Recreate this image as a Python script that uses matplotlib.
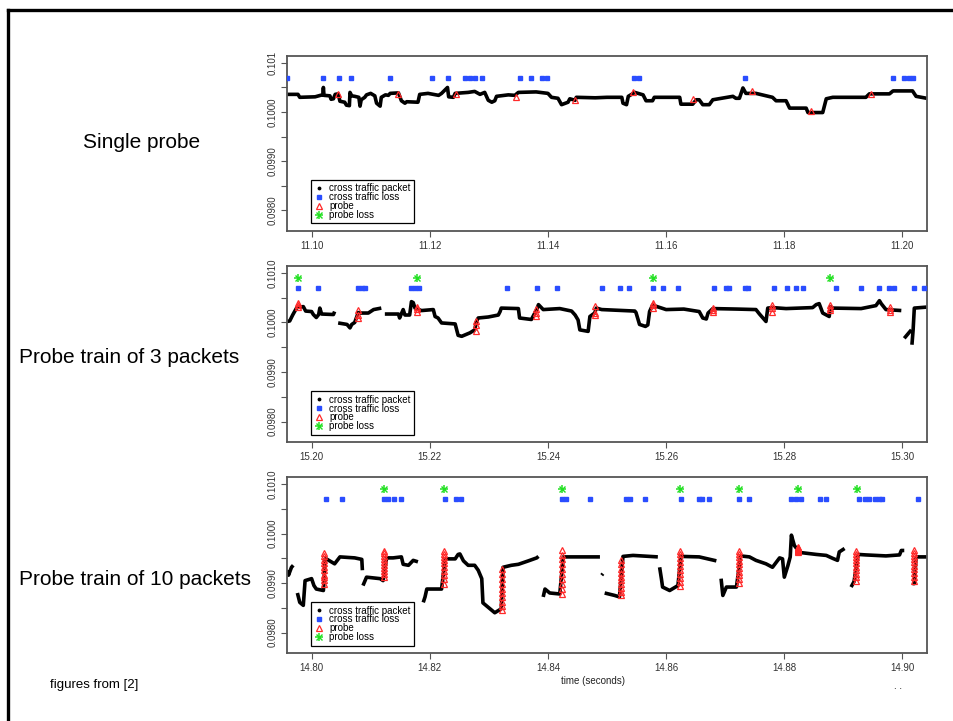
import numpy as np
import matplotlib
matplotlib.use("Agg")
import matplotlib.pyplot as plt
from matplotlib.lines import Line2D

plt.rcParams['font.family'] = ['Liberation Sans', 'DejaVu Sans']

# --------------------------
# Panel 1: single probe
# --------------------------
p1_t = [11.0959, 11.0977, 11.0980, 11.1006, 11.1015, 11.1019, 11.1020, 11.1021, 11.1031, 11.1033,
        11.1037, 11.1040, 11.1045, 11.1048, 11.1056, 11.1059, 11.1064, 11.1065, 11.1068, 11.1073,
        11.1080, 11.1082, 11.1084, 11.1090, 11.1093, 11.1100, 11.1107, 11.1110, 11.1116, 11.1118,
        11.1125, 11.1130, 11.1133, 11.1147, 11.1152, 11.1158, 11.1161, 11.1180, 11.1183, 11.1197,
        11.1215, 11.1220, 11.1230, 11.1232, 11.1240, 11.1243, 11.1265, 11.1276, 11.1285, 11.1293,
        11.1299, 11.1305, 11.1310, 11.1313, 11.1333, 11.1344, 11.1350, 11.1380, 11.1400, 11.1406,
        11.1417, 11.1423, 11.1434, 11.1437, 11.1446, 11.1448, 11.1480, 11.1500, 11.1525, 11.1527,
        11.1533, 11.1536, 11.1547, 11.1561, 11.1566, 11.1577, 11.1580, 11.1623, 11.1625, 11.1645,
        11.1651, 11.1656, 11.1662, 11.1673, 11.1679, 11.1713, 11.1718, 11.1724, 11.1730, 11.1735,
        11.1752, 11.1780, 11.1786, 11.1803, 11.1809, 11.1837, 11.1840, 11.1865, 11.1871, 11.1882,
        11.1938, 11.1944, 11.1978, 11.1984, 11.2017, 11.2023, 11.2041]
p1_y = [0.10036, 0.10036, 0.10030, 0.10031, 0.10034, 0.10035, 0.10050, 0.10034, 0.10033, 0.10026,
        0.10027, 0.10036, 0.10037, 0.10022, 0.10020, 0.10014, 0.10013, 0.10040, 0.10033, 0.10032,
        0.10030, 0.10012, 0.10025, 0.10030, 0.10035, 0.10038, 0.10033, 0.10018, 0.10012, 0.10030,
        0.10035, 0.10034, 0.10038, 0.10039, 0.10023, 0.10018, 0.10021, 0.10020, 0.10036, 0.10038,
        0.10034, 0.10038, 0.10050, 0.10031, 0.10030, 0.10038, 0.10040, 0.10042, 0.10036, 0.10040,
        0.10024, 0.10020, 0.10023, 0.10032, 0.10035, 0.10034, 0.10040, 0.10041, 0.10038, 0.10030,
        0.10028, 0.10015, 0.10020, 0.10027, 0.10024, 0.10030, 0.10029, 0.10030, 0.10030, 0.10018,
        0.10015, 0.10032, 0.10040, 0.10035, 0.10023, 0.10023, 0.10030, 0.10030, 0.10016, 0.10016,
        0.10025, 0.10025, 0.10015, 0.10015, 0.10025, 0.10032, 0.10028, 0.10028, 0.10049, 0.10038,
        0.10038, 0.10030, 0.10023, 0.10023, 0.10008, 0.10008, 0.09999, 0.09999, 0.10027, 0.10030,
        0.10030, 0.10037, 0.10037, 0.10043, 0.10043, 0.10032, 0.10028]
p1_loss = [11.0959, 11.1020, 11.1047, 11.1066, 11.1133, 11.1203, 11.1231, 11.1259, 11.1268, 11.1276,
           11.1288, 11.1352, 11.1372, 11.1390, 11.1398, 11.1546, 11.1554, 11.1734, 11.1984, 11.2003,
           11.2011, 11.2017]
p1_probe_t = [11.1044, 11.1146, 11.1245, 11.1346, 11.1446, 11.1544, 11.1646, 11.1746, 11.1846, 11.1946]
p1_probe_y = [[0.10037], [0.10037], [0.10037], [0.10030], [0.10024], [0.10040], [0.10026], [0.10043],
              [0.10003], [0.10036]]
p1_ploss = []

# --------------------------
# Panel 2: probe train of 3 packets
# --------------------------
p2_t = [15.1959, 15.1963, 15.1968, 15.1975, 15.1986, 15.1990, 15.2000, 15.2003, 15.2008, 15.2012,
        15.2014, 15.2017, 15.2037, 15.2039, np.nan, 15.2045, 15.2060, 15.2065, 15.2068, 15.2073,
        15.2079, 15.2082, 15.2096, 15.2105, 15.2118, np.nan, 15.2124, 15.2147, 15.2149, 15.2155,
        15.2158, 15.2166, 15.2169, 15.2172, 15.2175, 15.2186, 15.2206, 15.2209, 15.2214, 15.2220,
        15.2243, 15.2248, 15.2254, 15.2268, 15.2276, 15.2279, 15.2282, 15.2299, 15.2316, 15.2319,
        15.2321, 15.2350, 15.2352, 15.2372, 15.2376, 15.2381, 15.2384, 15.2392, 15.2420, 15.2440,
        15.2446, 15.2451, 15.2454, 15.2468, 15.2471, 15.2479, 15.2482, 15.2491, 15.2547, 15.2549,
        15.2555, 15.2565, 15.2569, 15.2572, 15.2577, 15.2600, 15.2630, 15.2656, 15.2662, 15.2668,
        15.2671, 15.2679, 15.2720, 15.2752, 15.2758, 15.2769, 15.2772, 15.2780, 15.2803, 15.2848,
        15.2854, 15.2859, 15.2865, 15.2876, 15.2878, 15.2882, 15.2930, 15.2955, 15.2961, 15.2964,
        15.2972, 15.2998, np.nan, 15.3003, 15.3010, 15.3015, np.nan, 15.3016, 15.3018, 15.3020,
        15.3041]
p2_y = [0.10002, 0.10003, 0.10015, 0.10030, 0.10032, 0.10023, 0.10022, 0.10016, 0.10010, 0.10016,
        0.10029, 0.10017, 0.10016, 0.10022, np.nan, 0.09999, 0.09996, 0.09989, 0.09996, 0.10000,
        0.10020, 0.10019, 0.10019, 0.10026, 0.10029, np.nan, 0.10017, 0.10017, 0.10009, 0.10026,
        0.10015, 0.10015, 0.10042, 0.10040, 0.10029, 0.10024, 0.10026, 0.10012, 0.10009, 0.09999,
        0.09997, 0.09974, 0.09972, 0.09979, 0.09985, 0.10002, 0.10009, 0.10011, 0.10015, 0.10022,
        0.10029, 0.10028, 0.10009, 0.10006, 0.10015, 0.10026, 0.10036, 0.10026, 0.10028, 0.10023,
        0.10015, 0.10005, 0.09985, 0.09982, 0.10012, 0.10019, 0.10029, 0.10026, 0.10023, 0.10020,
        0.09996, 0.09992, 0.09995, 0.10022, 0.10035, 0.10026, 0.10027, 0.10022, 0.10009, 0.10007,
        0.10019, 0.10028, 0.10027, 0.10026, 0.10017, 0.10002, 0.10029, 0.10030, 0.10028, 0.10030,
        0.10036, 0.10038, 0.10019, 0.10012, 0.10032, 0.10029, 0.10028, 0.10034, 0.10044, 0.10038,
        0.10026, 0.10024, np.nan, 0.09968, 0.09978, 0.09985, np.nan, 0.09955, 0.09985, 0.10029,
        0.10031]
p2_loss = [15.1977, 15.2011, 15.2079, 15.2085, 15.2090, 15.2169, 15.2175, 15.2182, 15.2330, 15.2382,
           15.2415, 15.2491, 15.2522, 15.2537, 15.2577, 15.2594, 15.2620, 15.2681, 15.2702, 15.2707,
           15.2733, 15.2738, 15.2782, 15.2805, 15.2820, 15.2832, 15.2887, 15.2929, 15.2961, 15.2977,
           15.2986, 15.3020, 15.3037]
p2_probe_t = [15.1977, 15.2079, 15.2179, 15.2278, 15.2379, 15.2479, 15.2577, 15.2679, 15.2779,
              15.2878, 15.2979]
p2_probe_y = [[0.10032, 0.10036, 0.10039], [0.10009, 0.10015, 0.10026], [0.10022, 0.10028, 0.10032],
              [0.09983, 0.09995, 0.10003], [0.10014, 0.10019, 0.10027], [0.10015, 0.10019, 0.10034],
              [0.10030, 0.10035, 0.10039], [0.10021, 0.10026, 0.10030], [0.10022, 0.10029, 0.10036],
              [0.10025, 0.10030, 0.10036], [0.10021, 0.10026, 0.10032]]
p2_ploss = [15.1977, 15.2179, 15.2577, 15.2878]

# --------------------------
# Panel 3: probe train of 10 packets
# --------------------------
p3_t = [14.7959, 14.7961, 14.7966, 14.7969, np.nan, 14.7972, np.nan, 14.7976, 14.7980, 14.7986,
        14.7989, 14.8000, 14.8004, 14.8008, 14.8020, 14.8023, 14.8025, 14.8039, 14.8048, 14.8073,
        14.8085, 14.8086, np.nan, 14.8087, 14.8093, 14.8116, 14.8121, 14.8127, 14.8138, 14.8152,
        14.8155, 14.8164, 14.8172, 14.8180, np.nan, 14.8189, 14.8192, 14.8195, 14.8220, 14.8226,
        14.8243, 14.8248, 14.8251, 14.8257, 14.8265, 14.8276, 14.8282, 14.8288, 14.8290, 14.8299,
        14.8310, 14.8321, 14.8324, 14.8338, 14.8350, 14.8367, 14.8381, 14.8384, np.nan, 14.8392,
        14.8395, 14.8403, 14.8420, 14.8426, 14.8488, np.nan, 14.8491, 14.8493, np.nan, 14.8496,
        14.8513, 14.8521, 14.8527, 14.8544, 14.8586, np.nan, 14.8589, 14.8592, 14.8594, 14.8606,
        14.8620, 14.8625, 14.8656, 14.8685, np.nan, 14.8693, 14.8696, 14.8702, 14.8719, 14.8726,
        14.8741, 14.8752, 14.8769, 14.8780, 14.8792, 14.8797, 14.8800, 14.8806, 14.8810, 14.8812,
        14.8817, 14.8826, 14.8854, 14.8871, 14.8882, 14.8890, 14.8893, 14.8902, np.nan, 14.8913,
        14.8918, 14.8925, 14.8938, 14.8972, 14.8995, 14.8998, 14.9003, np.nan, 14.9017, 14.9020,
        14.9023, 14.9041]
p3_y = [0.09926, 0.09916, 0.09932, 0.09936, np.nan, 0.09912, np.nan, 0.09880, 0.09861, 0.09855,
        0.09905, 0.09909, 0.09895, 0.09888, 0.09885, 0.09949, 0.09949, 0.09939, 0.09953, 0.09951,
        0.09948, 0.09926, np.nan, 0.09895, 0.09912, 0.09909, 0.09905, 0.09951, 0.09951, 0.09953,
        0.09938, 0.09936, 0.09946, 0.09943, np.nan, 0.09861, 0.09872, 0.09888, 0.09888, 0.09949,
        0.09949, 0.09958, 0.09959, 0.09945, 0.09936, 0.09936, 0.09926, 0.09909, 0.09860, 0.09851,
        0.09840, 0.09848, 0.09932, 0.09936, 0.09938, 0.09945, 0.09951, 0.09954, np.nan, 0.09872,
        0.09888, 0.09880, 0.09878, 0.09953, 0.09953, np.nan, 0.09916, 0.09919, np.nan, 0.09880,
        0.09875, 0.09872, 0.09954, 0.09956, 0.09953, np.nan, 0.09932, 0.09909, 0.09892, 0.09885,
        0.09895, 0.09954, 0.09953, 0.09945, np.nan, 0.09909, 0.09875, 0.09892, 0.09892, 0.09955,
        0.09953, 0.09946, 0.09939, 0.09932, 0.09951, 0.09949, 0.09912, 0.09935, 0.09953, 0.09997,
        0.09976, 0.09962, 0.09958, 0.09956, 0.09950, 0.09946, 0.09963, 0.09970, np.nan, 0.09892,
        0.09903, 0.09958, 0.09957, 0.09955, 0.09957, 0.09966, 0.09966, np.nan, 0.09899, 0.09899,
        0.09953, 0.09953]
p3_loss = [14.8025, 14.8052, 14.8123, 14.8129, 14.8140, 14.8152, 14.8226, 14.8245, 14.8253, 14.8423,
           14.8431, 14.8471, 14.8532, 14.8539, 14.8564, 14.8625, 14.8655, 14.8660, 14.8672, 14.8724,
           14.8740, 14.8812, 14.8820, 14.8828, 14.8861, 14.8871, 14.8927, 14.8937, 14.8944, 14.8953,
           14.8961, 14.8965, 14.9026]
p3_probe_t = [14.8021, 14.8123, 14.8224, 14.8323, 14.8423, 14.8523, 14.8623, 14.8723, 14.8824,
              14.8922, 14.9020]
p3_probe_y = [
    [0.09898, 0.09906, 0.09913, 0.09917, 0.09926, 0.09933, 0.09940, 0.09946, 0.09955, 0.09961],
    [0.09912, 0.09918, 0.09925, 0.09931, 0.09937, 0.09943, 0.09949, 0.09955, 0.09960, 0.09965],
    [0.09899, 0.09908, 0.09916, 0.09924, 0.09932, 0.09940, 0.09947, 0.09953, 0.09959, 0.09965],
    [0.09845, 0.09853, 0.09862, 0.09871, 0.09880, 0.09889, 0.09898, 0.09908, 0.09919, 0.09929],
    [0.09878, 0.09888, 0.09898, 0.09908, 0.09918, 0.09928, 0.09938, 0.09948, 0.09957, 0.09966],
    [0.09875, 0.09883, 0.09891, 0.09899, 0.09906, 0.09913, 0.09921, 0.09929, 0.09938, 0.09946],
    [0.09895, 0.09903, 0.09911, 0.09919, 0.09927, 0.09935, 0.09943, 0.09950, 0.09958, 0.09965],
    [0.09900, 0.09908, 0.09916, 0.09923, 0.09931, 0.09938, 0.09945, 0.09952, 0.09958, 0.09965],
    [0.09962, 0.09964, 0.09965, 0.09967, 0.09968, 0.09969, 0.09970, 0.09971, 0.09972, 0.09974],
    [0.09904, 0.09912, 0.09919, 0.09926, 0.09933, 0.09940, 0.09947, 0.09953, 0.09959, 0.09965],
    [0.09904, 0.09912, 0.09920, 0.09928, 0.09935, 0.09942, 0.09949, 0.09955, 0.09961, 0.09967]]
p3_ploss = [14.8123, 14.8224, 14.8424, 14.8623, 14.8724, 14.8824, 14.8923]

loss_level = 0.10070
ploss_level = 0.10090
y_ticks = [0.0980, 0.0985, 0.0990, 0.0995, 0.1000, 0.1005, 0.1010]

panels = [
    ("Single probe", 11.10, p1_t, p1_y, p1_loss, p1_probe_t, p1_probe_y, p1_ploss, "0.101"),
    ("Probe train of 3 packets", 15.20, p2_t, p2_y, p2_loss, p2_probe_t, p2_probe_y, p2_ploss, "0.1010"),
    ("Probe train of 10 packets", 14.80, p3_t, p3_y, p3_loss, p3_probe_t, p3_probe_y, p3_ploss, "0.1010"),
]
axes_pos = [[0.3012, 0.6796, 0.6702, 0.2427],
            [0.3012, 0.3865, 0.6702, 0.2446],
            [0.3012, 0.0939, 0.6702, 0.2441]]
label_pos = [(0.1488, 0.8017), (0.1352, 0.5035), (0.1410, 0.1956)]

fig = plt.figure(figsize=(9.54, 7.21), dpi=100)

# slide frame (top and left edges)
fig.add_artist(Line2D([8 / 954, 1.0], [1 - 10 / 721, 1 - 10 / 721], color='black', lw=2.4,
                      transform=fig.transFigure))
fig.add_artist(Line2D([8 / 954, 8 / 954], [0.0, 1 - 10 / 721], color='black', lw=2.4,
                      transform=fig.transFigure))

blue = '#2a4dff'
red = '#ff2a2a'
green = '#22e022'


def star(ax, xs, ys, **kw):
    # R pch 8: a plus sign with a cross on top
    ax.plot(xs, ys, '+', color=green, ms=5.5, mew=1.1, ls='none', **kw)
    ax.plot(xs, ys, 'x', color=green, ms=4, mew=1.0, ls='none', **kw)


for i, (title, x0, tt, yy, loss, pt, py, pl, toplab) in enumerate(panels):
    ax = fig.add_axes(axes_pos[i])
    ax.plot(tt, yy, color='black', lw=2.6, solid_capstyle='butt', zorder=2)
    ax.plot(loss, [loss_level] * len(loss), 's', color=blue, ms=3.2, mec=blue, zorder=3)
    for t, vals in zip(pt, py):
        ax.plot([t] * len(vals), vals, '^', mfc='none', mec=red, ms=4.2, mew=0.9, zorder=4)
    if len(pl) > 0:
        star(ax, pl, [ploss_level] * len(pl), zorder=4)

    ax.set_xlim(x0 - 0.0041, x0 + 0.1041)
    ax.set_ylim(0.09758, 0.10114)
    xt = [x0 + 0.02 * k for k in range(6)]
    ax.set_xticks(xt, ["%.2f" % v for v in xt])
    ylabs = ["0.0980", "", "0.0990", "", "0.1000", "", toplab]
    ax.set_yticks(y_ticks, ylabs)
    for lab in ax.get_yticklabels():
        lab.set_rotation(90)
        lab.set_va('center')
    ax.tick_params(axis='both', length=4, width=0.8, color='#555555', labelsize=7,
                   labelcolor='#333333')
    ax.tick_params(axis='y', pad=3)
    ax.tick_params(axis='x', pad=3)
    for s in ax.spines.values():
        s.set_color('#555555')
        s.set_linewidth(1.3)

    handles = [
        Line2D([], [], marker='.', color='black', ls='none', ms=3.5),
        Line2D([], [], marker='s', color=blue, ls='none', ms=3),
        Line2D([], [], marker='^', mfc='none', mec=red, ls='none', ms=4, mew=0.9),
        (Line2D([], [], marker='+', color=green, ls='none', ms=5.5, mew=1.1),
         Line2D([], [], marker='x', color=green, ls='none', ms=4, mew=1.0)),
    ]
    leg = ax.legend(handles, ["cross traffic packet", "cross traffic loss", "probe", "probe loss"],
                    loc='lower left', bbox_to_anchor=(0.037, 0.044), borderaxespad=0,
                    fontsize=7, fancybox=False, framealpha=1, edgecolor='black',
                    handlelength=1.0, handletextpad=0.5, labelspacing=-0.12, borderpad=0.35)
    leg.get_frame().set_linewidth(0.9)

    fig.text(label_pos[i][0], label_pos[i][1], title, fontsize=15, ha='center', va='center')

fig.text(0.6216, 0.0555, "time (seconds)", fontsize=7, ha='center', va='center', color='#222222')
fig.text(0.0524, 0.050, "figures from [2]", fontsize=9.5, ha='left', va='center')
fig.text(0.941, 0.048, ". .", fontsize=7, ha='center', va='center')

fig.savefig("out.png", dpi=100)
